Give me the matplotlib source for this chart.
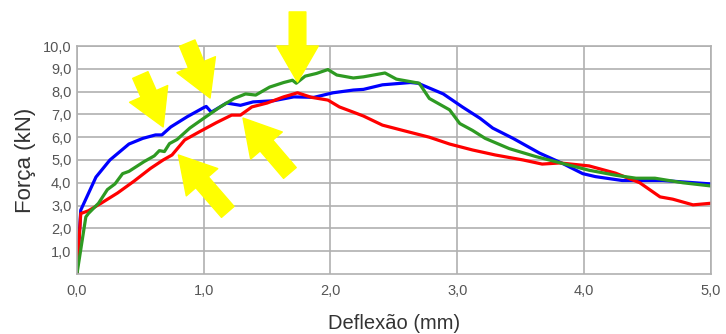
import matplotlib.pyplot as plt

plt.rcParams['font.family'] = ['Liberation Sans', 'DejaVu Sans']

# Deflexão (mm) / Força (kN)
blue_x = [0.0, 0.03, 0.15, 0.26, 0.41, 0.52, 0.62, 0.67, 0.74, 0.87, 1.0, 1.02, 1.06,
          1.18, 1.29, 1.39, 1.55, 1.71, 1.87, 2.02, 2.18, 2.26, 2.41, 2.63, 2.69,
          2.89, 3.04, 3.18, 3.28, 3.44, 3.65, 3.83, 3.99, 4.09, 4.30, 4.62, 5.0]
blue_y = [0.0, 2.8, 4.25, 5.0, 5.7, 5.95, 6.1, 6.1, 6.45, 6.9, 7.3, 7.35, 7.1,
          7.5, 7.4, 7.55, 7.6, 7.77, 7.75, 7.95, 8.07, 8.1, 8.3, 8.4, 8.37,
          7.9, 7.33, 6.83, 6.4, 5.95, 5.3, 4.85, 4.4, 4.27, 4.1, 4.1, 3.95]

green_x = [0.0, 0.07, 0.09, 0.17, 0.24, 0.30, 0.36, 0.41, 0.53, 0.61, 0.65, 0.69, 0.73,
           0.79, 0.89, 1.0, 1.13, 1.24, 1.33, 1.41, 1.52, 1.63, 1.70, 1.73, 1.80,
           1.89, 1.98, 2.05, 2.18, 2.26, 2.43, 2.52, 2.70, 2.78, 2.94, 3.02, 3.12,
           3.22, 3.41, 3.62, 3.83, 4.04, 4.25, 4.41, 4.56, 4.78, 5.0]
green_y = [0.0, 2.5, 2.65, 3.1, 3.7, 3.95, 4.4, 4.5, 4.93, 5.18, 5.41, 5.37, 5.72,
           5.9, 6.4, 6.83, 7.33, 7.7, 7.9, 7.85, 8.2, 8.4, 8.5, 8.37, 8.68,
           8.8, 8.97, 8.73, 8.6, 8.65, 8.82, 8.55, 8.37, 7.7, 7.2, 6.6, 6.3,
           5.95, 5.5, 5.15, 4.85, 4.55, 4.33, 4.2, 4.2, 4.0, 3.86]

red_x = [0.0, 0.03, 0.09, 0.19, 0.32, 0.45, 0.58, 0.68, 0.75, 0.85, 0.97, 1.10, 1.22,
         1.29, 1.38, 1.50, 1.63, 1.74, 1.85, 1.98, 2.07, 2.18, 2.26, 2.41, 2.59,
         2.78, 2.94, 3.12, 3.30, 3.52, 3.67, 3.81, 4.04, 4.25, 4.44, 4.60, 4.70,
         4.86, 5.0]
red_y = [0.0, 2.65, 2.77, 3.1, 3.55, 4.07, 4.63, 5.0, 5.22, 5.88, 6.25, 6.64, 6.97,
         6.97, 7.33, 7.5, 7.77, 7.95, 7.75, 7.63, 7.33, 7.1, 6.93, 6.53, 6.27,
         6.0, 5.7, 5.44, 5.22, 5.0, 4.82, 4.87, 4.74, 4.42, 4.0, 3.38, 3.28,
         3.03, 3.1]

x_ticks = [0, 1, 2, 3, 4, 5]
x_labels = ['0,0', '1,0', '2,0', '3,0', '4,0', '5,0']
y_ticks = [1, 2, 3, 4, 5, 6, 7, 8, 9, 10]
y_labels = ['1,0', '2,0', '3,0', '4,0', '5,0', '6,0', '7,0', '8,0', '9,0', '10,0']

# yellow arrows: (tail, tip) in data units
arrows = [((0.50, 8.73), (0.68, 6.45)),
          ((0.87, 10.13), (1.05, 7.72)),
          ((1.74, 11.5), (1.74, 8.42)),
          ((1.68, 4.43), (1.31, 6.84)),
          ((1.19, 2.72), (0.80, 5.22))]

fig = plt.figure(figsize=(7.26, 3.34), dpi=100)
ax = fig.add_axes([0.106, 0.18, 0.873, 0.682])

ax.plot(blue_x, blue_y, color='#0000ff', lw=2.3)
ax.plot(red_x, red_y, color='#ff0000', lw=2.3)
ax.plot(green_x, green_y, color='#2e9a22', lw=2.3)

for tail, tip in arrows:
    ax.annotate('', xy=tip, xytext=tail, annotation_clip=False,
                arrowprops=dict(arrowstyle='simple,head_length=1.3,head_width=1.5,tail_width=0.6',
                                color='#ffff00', mutation_scale=20, shrinkA=0, shrinkB=0))

ax.set_xlim(0, 5)
ax.set_ylim(0, 10)
ax.set_xticks(x_ticks)
ax.set_xticklabels(x_labels)
ax.set_yticks(y_ticks)
ax.set_yticklabels(y_labels)
ax.tick_params(length=0, labelsize=10.5, labelcolor='#555555')
ax.tick_params(axis='x', pad=7)
ax.tick_params(axis='y', pad=4)
ax.grid(True, color='#b0b0b0', lw=1.2)
ax.set_axisbelow(True)
for s in ax.spines.values():
    s.set_color('#b0b0b0')
    s.set_linewidth(1.2)

ax.set_xlabel('Deflexão (mm)', fontsize=14.5, color='#333333', labelpad=12)
ax.set_ylabel('Força (kN)', fontsize=16, color='#333333', labelpad=5)

plt.savefig('out.png', dpi=100)
